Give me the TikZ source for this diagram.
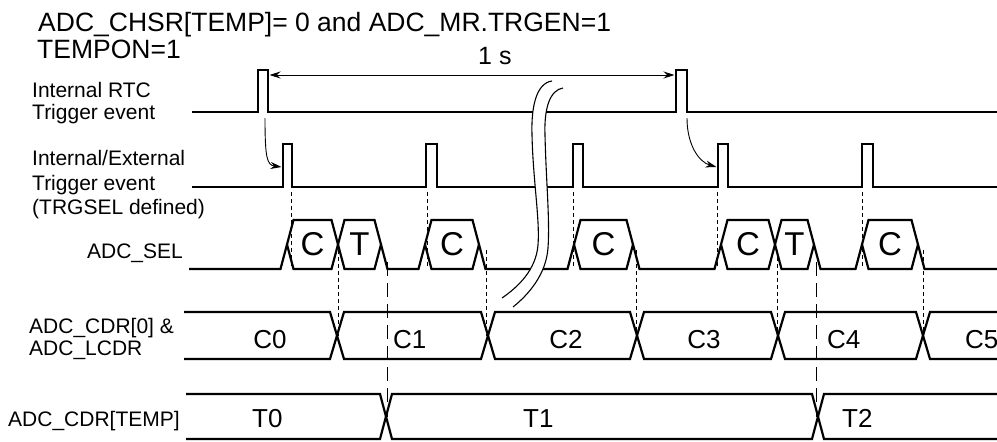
\documentclass[tikz,border=0pt]{standalone}
\usepackage{fontspec}
\setmainfont{Liberation Sans}
\usetikzlibrary{arrows.meta}
\begin{document}
\begin{tikzpicture}[x=1pt,y=-1pt,
  sig/.style={line width=2.2pt, line join=miter, line cap=butt},
  dsh/.style={line width=0.9pt, dash pattern=on 4pt off 3pt},
  ldsh/.style={line width=0.9pt, dash pattern=on 14pt off 7pt},
  arr/.style={line width=0.9pt, -{Stealth[length=11pt,width=7pt]}},
  brk/.style={line width=1.1pt},
  lbl/.style={font=\fontsize{21}{24}\selectfont, anchor=base west, inner sep=0pt},
  ttl/.style={font=\fontsize{26.5}{30}\selectfont, anchor=base west, inner sep=0pt},
  hexlbl/.style={font=\fontsize{33}{36}\selectfont, inner sep=0pt},
  datlbl/.style={font=\fontsize{26}{28}\selectfont, anchor=base, inner sep=0pt}]
\useasboundingbox (0,0) rectangle (997,442);

% ---------- texts ----------
\node[ttl] (title) at (38,31) {ADC\_CHSR[TEMP]= 0 and ADC\_MR.TRGEN=1};
\node[ttl] (tempon) at (37,58) {TEMPON=1};
\node[lbl] (lrtca) at (32,97) {Internal RTC};
\node[lbl] (lrtcb) at (32,119) {Trigger event};
\node[lbl] (ltrga) at (32,165) {Internal/External};
\node[lbl] (ltrgb) at (32,190) {Trigger event};
\node[lbl] (ltrgc) at (32,214) {(TRGSEL defined)};
\node[lbl, anchor=base east] (lsel) at (183,258) {ADC\_SEL};
\node[lbl] (lcdra) at (29,333) {ADC\_CDR[0] \&};
\node[lbl] (lcdrb) at (29,355) {ADC\_LCDR};
\node[lbl] (ltemp) at (8,426) {ADC\_CDR[TEMP]};
\node[font=\fontsize{25}{28}\selectfont, anchor=base west, inner sep=0pt] (ones) at (478,64) {1 s};

% ---------- RTC trigger ----------
\draw[sig] (192,112) -- (258,112) -- (258,70) -- (268,70) -- (268,112)
  -- (676,112) -- (676,70) -- (687,70) -- (687,112) -- (997,112);

% ---------- Internal/External trigger ----------
\draw[sig] (192,187)
  -- (283,187) -- (283,144) -- (292,144) -- (292,187)
  -- (426,187) -- (426,144) -- (437,144) -- (437,187)
  -- (573,187) -- (573,144) -- (583,144) -- (583,187)
  -- (718,187) -- (718,144) -- (728,144) -- (728,187)
  -- (862,187) -- (862,144) -- (873,144) -- (873,187) -- (997,187);

% ---------- ADC_SEL ----------
\draw[sig] (189,269) -- (280.5,269) -- (293.5,220) -- (331.5,220) -- (338,244.5)
  -- (344.5,220) -- (374.5,220) -- (381,244.5) -- (387.5,269)
  -- (418.5,269) -- (431.5,220) -- (472.5,220) -- (479,244.5) -- (485.5,269)
  -- (567.5,269) -- (580.5,220) -- (626.5,220) -- (633,244.5) -- (639.5,269)
  -- (714.5,269) -- (727.5,220) -- (768.5,220) -- (775,244.5)
  -- (781.5,220) -- (807.5,220) -- (814,244.5) -- (820.5,269)
  -- (855.5,269) -- (868.5,220) -- (911.5,220) -- (918,244.5) -- (924.5,269) -- (997,269);
\draw[sig] (287,244.5) -- (293.5,269) -- (331.5,269) -- (338,244.5)
  -- (344.5,269) -- (374.5,269) -- (381,244.5);
\draw[sig] (425,244.5) -- (431.5,269) -- (472.5,269) -- (479,244.5);
\draw[sig] (574,244.5) -- (580.5,269) -- (626.5,269) -- (633,244.5);
\draw[sig] (721,244.5) -- (727.5,269) -- (768.5,269) -- (775,244.5)
  -- (781.5,269) -- (807.5,269) -- (814,244.5);
\draw[sig] (862,244.5) -- (868.5,269) -- (911.5,269) -- (918,244.5);
\node[hexlbl] (h1) at (312.5,244.5) {C};
\node[hexlbl] (h2) at (359.5,244.5) {T};
\node[hexlbl] (h3) at (452,244.5) {C};
\node[hexlbl] (h4) at (603.5,244.5) {C};
\node[hexlbl] (h5) at (748,244.5) {C};
\node[hexlbl] (h6) at (794.5,244.5) {T};
\node[hexlbl] (h7) at (890,244.5) {C};

% ---------- ADC_CDR[0] & ADC_LCDR ----------
\draw[sig] (184,312) -- (330,312) -- (344,359) -- (481,359) -- (495,312) -- (630,312)
  -- (644,359) -- (771,359) -- (785,312) -- (916,312) -- (930,359) -- (997,359);
\draw[sig] (184,359) -- (330,359) -- (344,312) -- (481,312) -- (495,359) -- (630,359)
  -- (644,312) -- (771,312) -- (785,359) -- (916,359) -- (930,312) -- (997,312);
\node[datlbl] (c0) at (270,348) {C0};
\node[datlbl, anchor=base west] (c1) at (393,348) {C1};
\node[datlbl] (c2) at (566,348) {C2};
\node[datlbl] (c3) at (704,348) {C3};
\node[datlbl, anchor=base west] (c4) at (827,348) {C4};
\node[datlbl, anchor=base west] (c5) at (965,348) {C5};

% ---------- ADC_CDR[TEMP] ----------
\draw[sig] (186,394) -- (380,394) -- (392,439) -- (812,439) -- (824,394) -- (997,394);
\draw[sig] (186,439) -- (380,439) -- (392,394) -- (812,394) -- (824,439) -- (997,439);
\node[datlbl, anchor=base west] (t0) at (252,427) {T0};
\node[datlbl, anchor=base west] (t1) at (523,427) {T1};
\node[datlbl, anchor=base west] (t2) at (842,427) {T2};

% ---------- dashed guides ----------
\foreach \x in {291,427,573,717,862} \draw[dsh] (\x,192) -- (\x,266);
\foreach \x in {338,486,636,777,923} \draw[dsh] (\x,250) -- (\x,336);
\foreach \x in {387,816} \draw[ldsh] (\x,262) -- (\x,417);

% ---------- arrows ----------
\coordinate (sA) at (269.5,75);
\coordinate (sB) at (674.5,75);
\draw[arr, {Stealth[length=11pt,width=7pt]}-{Stealth[length=11pt,width=7pt]}] (sA) -- (sB);
\coordinate (a1s) at (265,118);
\coordinate (a1e) at (281.5,167);
\draw[arr] (a1s) .. controls (265,158) and (267,165) .. (a1e);
\coordinate (a2s) at (687,118);
\coordinate (a2e) at (716.5,167);
\draw[arr] (a2s) .. controls (687,145) and (699,162) .. (a2e);

% ---------- break mark ----------
\fill[white] (552,81) .. controls (537,83) and (531,105) .. (532,135)
  .. controls (533,180) and (540,220) .. (538,245)
  .. controls (536,270) and (518,287) .. (502,298)
  -- (513,307) .. controls (528,295) and (546,275) .. (548,248)
  .. controls (550,220) and (546,180) .. (545,135)
  .. controls (544,108) and (550,90) .. (563,88) -- cycle;
\draw[brk] (552,81) .. controls (537,83) and (531,105) .. (532,135)
  .. controls (533,180) and (540,220) .. (538,245)
  .. controls (536,270) and (518,287) .. (502,298);
\draw[brk] (563,88) .. controls (550,90) and (544,108) .. (545,135)
  .. controls (546,180) and (550,220) .. (548,248)
  .. controls (546,275) and (528,295) .. (513,307);
\end{tikzpicture}
\end{document}
